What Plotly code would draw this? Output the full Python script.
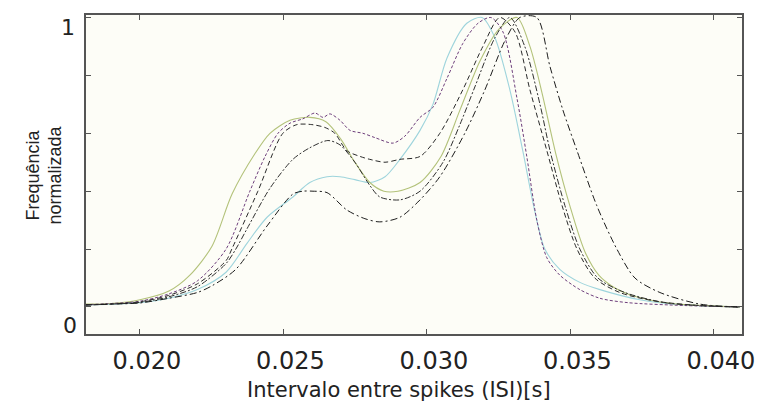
import plotly.graph_objects as go

# ---- data (x in seconds, y normalised frequency) ----
purple_x = [0.0181, 0.0190, 0.0200, 0.0210, 0.0220, 0.0230, 0.02383, 0.02436, 0.02481, 0.02523, 0.02568,
            0.02610, 0.02638, 0.02662, 0.02697, 0.02732, 0.02777, 0.02819, 0.02882, 0.02923, 0.02976,
            0.03021, 0.03070, 0.03125, 0.03178, 0.03223, 0.03265, 0.03314, 0.03348, 0.03383, 0.03418,
            0.03463, 0.03533, 0.03603, 0.03700, 0.03899, 0.0409]
purple_y = [0.008, 0.012, 0.02, 0.045, 0.09, 0.20, 0.40, 0.52, 0.60, 0.635, 0.65,
            0.67, 0.655, 0.667, 0.645, 0.61, 0.60, 0.585, 0.566, 0.59, 0.655,
            0.69, 0.79, 0.91, 0.98, 1.0, 0.95, 0.72, 0.52, 0.30, 0.17,
            0.11, 0.06, 0.03, 0.015, 0.005, 0.0]

green_x = [0.0181, 0.0190, 0.0200, 0.02101, 0.02174, 0.02251, 0.02321, 0.02401, 0.02453, 0.02523, 0.02592,
           0.02648, 0.02700, 0.02749, 0.02801, 0.02850, 0.02899, 0.02976, 0.03049, 0.03115, 0.03185,
           0.03251, 0.03314, 0.03359, 0.03401, 0.03449, 0.03498, 0.03551, 0.03599, 0.03648, 0.03700,
           0.03798, 0.03899, 0.0409]
green_y = [0.01, 0.012, 0.025, 0.055, 0.11, 0.21, 0.39, 0.53, 0.60, 0.645, 0.655,
           0.64, 0.58, 0.50, 0.43, 0.40, 0.40, 0.43, 0.52, 0.68, 0.85,
           0.96, 1.0, 0.90, 0.74, 0.53, 0.35, 0.19, 0.11, 0.07, 0.045,
           0.02, 0.008, 0.0]

dashed_x = [0.0181, 0.0190, 0.0200, 0.0210, 0.0220, 0.0230, 0.0232, 0.02411, 0.02498, 0.02547, 0.02599,
            0.02645, 0.02679, 0.02721, 0.02767, 0.02801, 0.02854, 0.02906, 0.02976, 0.03045, 0.03125,
            0.03195, 0.03254, 0.03307, 0.03359, 0.03418, 0.03471, 0.03523, 0.03585, 0.03672, 0.03798,
            0.03951, 0.0409]
dashed_y = [0.007, 0.01, 0.018, 0.04, 0.08, 0.16, 0.20, 0.40, 0.60, 0.63, 0.63,
            0.62, 0.60, 0.54, 0.52, 0.51, 0.50, 0.51, 0.52, 0.60, 0.75,
            0.90, 1.0, 0.95, 0.75, 0.54, 0.35, 0.20, 0.10, 0.05, 0.02,
            0.005, 0.0]

dashdot_x = [0.0181, 0.0190, 0.0200, 0.0210, 0.0220, 0.0230, 0.02334, 0.02373, 0.02453, 0.02533, 0.02592,
             0.02655, 0.02697, 0.02749, 0.02801, 0.02836, 0.02906, 0.02976, 0.03056, 0.03115, 0.03167,
             0.03237, 0.03289, 0.03341, 0.03394, 0.03429, 0.03481, 0.03533, 0.03596, 0.03690, 0.03829,
             0.03951, 0.0409]
dashdot_y = [0.007, 0.01, 0.016, 0.035, 0.07, 0.15, 0.20, 0.27, 0.41, 0.51, 0.55,
             0.575, 0.56, 0.50, 0.42, 0.38, 0.37, 0.40, 0.50, 0.63, 0.76,
             0.93, 1.0, 0.90, 0.70, 0.54, 0.35, 0.20, 0.10, 0.05, 0.015,
             0.005, 0.0]

cyan_x = [0.0181, 0.0190, 0.0200, 0.0210, 0.0220, 0.0230, 0.02373, 0.02443, 0.02533, 0.02592, 0.02652,
          0.02697, 0.02749, 0.02801, 0.02854, 0.02906, 0.02976, 0.03021, 0.03070, 0.03139, 0.03192,
          0.03237, 0.03289, 0.03334, 0.03376, 0.03411, 0.03463, 0.03533, 0.03603, 0.03742, 0.03882,
          0.0409]
cyan_y = [0.007, 0.01, 0.015, 0.03, 0.06, 0.12, 0.22, 0.31, 0.38, 0.43, 0.45,
          0.45, 0.44, 0.43, 0.45, 0.51, 0.61, 0.70, 0.86, 0.98, 1.0,
          0.93, 0.75, 0.54, 0.33, 0.20, 0.13, 0.085, 0.06, 0.025, 0.008,
          0.0]

low_x = [0.0181, 0.0190, 0.0200, 0.0210, 0.0220, 0.02254, 0.02334, 0.02443, 0.02533, 0.02568, 0.02603,
         0.02652, 0.02721, 0.02784, 0.02836, 0.02906, 0.02976, 0.03045, 0.03132, 0.03202, 0.03272,
         0.03324, 0.03383, 0.03429, 0.03474, 0.03523, 0.03592, 0.03662, 0.03725, 0.03812, 0.03951,
         0.0409]
low_y = [0.007, 0.01, 0.014, 0.03, 0.05, 0.075, 0.13, 0.28, 0.39, 0.40, 0.40,
         0.395, 0.335, 0.305, 0.294, 0.31, 0.37, 0.45, 0.60, 0.75, 0.92,
         1.0, 1.0, 0.83, 0.68, 0.54, 0.35, 0.20, 0.10, 0.05, 0.01,
         0.0]

x_tickvals = [0.020, 0.025, 0.030, 0.035, 0.040]
x_ticktext = ["0.020", "0.025", "0.030", "0.035", "0.040"]
y_tickvals = [0, 0.2, 0.4, 0.6, 0.8, 1.0]

series = [
    (cyan_x, cyan_y, "#9ed4dc", "solid", 1.1),
    (green_x, green_y, "#b3c27a", "solid", 1.1),
    (purple_x, purple_y, "#6e3f7c", "3px,2px", 1.0),
    (dashed_x, dashed_y, "#2a2a2a", "5px,3px", 1.0),
    (dashdot_x, dashdot_y, "#303030", "6px,2px,2px,2px", 1.0),
    (low_x, low_y, "#1c1c1c", "7px,3px,2px,3px", 1.0),
]

fig = go.Figure()
for xs, ys, col, dash, w in series:
    fig.add_trace(go.Scatter(x=xs, y=ys, mode="lines",
                             line=dict(color=col, width=w, dash=dash, shape="spline", smoothing=0.8),
                             showlegend=False, hoverinfo="skip"))

axis_common = dict(showline=True, linecolor="#555555", linewidth=1.5, mirror="ticks",
                   ticks="inside", tickcolor="#555555", ticklen=5, tickwidth=1,
                   showgrid=False, zeroline=False, automargin=False)

fig.update_xaxes(range=[0.01812, 0.04098], tickvals=x_tickvals, ticktext=x_ticktext,
                 tickfont=dict(family="DejaVu Sans", size=24, color="#222222"),
                 ticklabelshift=7, ticklabelstandoff=4,
                 **axis_common)
fig.update_yaxes(range=[-0.0933, 1.0086], tickvals=y_tickvals, showticklabels=False,
                 **axis_common)

label_font = dict(family="DejaVu Sans", size=22, color="#222222")
title_font = dict(family="Liberation Sans, Arial", size=18, color="#222222")

# x axis title
fig.add_annotation(xref="paper", yref="paper", x=0.4771, y=-0.176,
                   text="Intervalo entre spikes (ISI)[s]", showarrow=False,
                   xanchor="center", yanchor="middle",
                   font=dict(family="DejaVu Sans", size=21, color="#222222"))
# y tick labels "1" and "0" and the two-line y title
fig.add_annotation(xref="paper", yref="paper", x=-0.0274, y=0.962, text="1", showarrow=False,
                   xanchor="center", yanchor="middle", font=label_font)
fig.add_annotation(xref="paper", yref="paper", x=-0.0244, y=0.026, text="0", showarrow=False,
                   xanchor="center", yanchor="middle", font=label_font)
fig.add_annotation(xref="paper", yref="paper", x=-0.0808, y=0.50, text="Frequência", showarrow=False,
                   textangle=-90, xanchor="center", yanchor="middle", font=title_font)
fig.add_annotation(xref="paper", yref="paper", x=-0.0473, y=0.50, text="normalizada", showarrow=False,
                   textangle=-90, xanchor="center", yanchor="middle", font=title_font)

fig.update_layout(width=760, height=401,
                  margin=dict(l=86, r=18, t=15, b=67),
                  paper_bgcolor="#ffffff", plot_bgcolor="#fdfdf7")

fig.write_html("out.html")
